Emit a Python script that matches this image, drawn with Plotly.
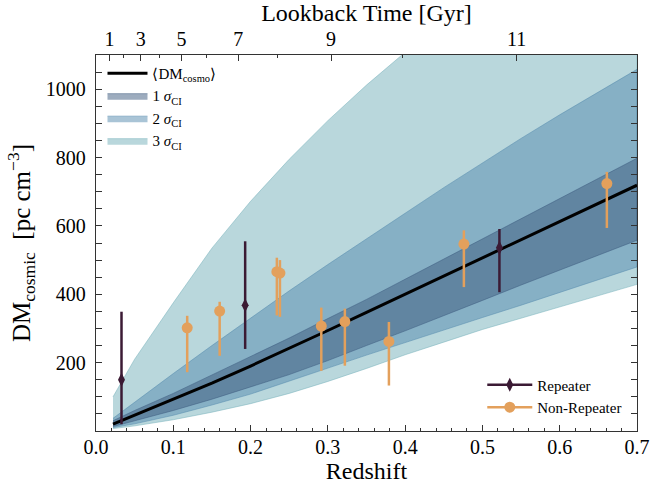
import plotly.graph_objects as go

# ---- data ----
z_grid = [0.022, 0.05, 0.1, 0.15, 0.2, 0.25, 0.3, 0.35, 0.4, 0.45, 0.5, 0.55, 0.6, 0.65, 0.7]
dm_mean = [20, 46, 92, 140, 190, 241, 294, 347, 400, 453, 506, 559, 612, 665, 719]
sig1_up = [30, 60, 110, 164, 218, 272, 329, 385, 444, 503, 562, 620, 680, 739, 798]
sig1_lo = [13, 30, 60, 93, 128, 165, 206, 250, 293, 337, 382, 427, 471, 515, 558]
sig2_up = [37, 85, 168, 250, 330, 410, 487, 563, 637, 712, 785, 856, 925, 992, 1058]
sig2_lo = [10, 21, 46, 76, 108, 145, 184, 222, 260, 296, 332, 368, 405, 442, 480]
sig3_up = [100, 210, 375, 535, 672, 795, 908, 1012, 1108, 1200, 1290, 1378, 1465, 1550, 1635]
sig3_lo = [7, 15, 33, 55, 80, 110, 145, 183, 223, 260, 297, 330, 363, 396, 429]

z_rep = [0.033, 0.193, 0.522]
dm_rep = [150, 368, 536]
rep_err_up = [199, 187, 55]
rep_err_lo = [130, 128, 130]

z_nrep = [0.118, 0.160, 0.234, 0.238, 0.2915, 0.322, 0.379, 0.476, 0.661]
dm_nrep = [302, 351, 466, 462, 307, 320, 262, 547, 724]
nrep_err_up = [35, 27, 41, 38, 54, 38, 57, 40, 34]
nrep_err_lo = [130, 131, 128, 128, 131, 129, 129, 126, 130]

lookback_z = [0.0175, 0.0579, 0.1106, 0.1840, 0.3041, 0.5442]
lookback_labels = ["1", "3", "5", "7", "9", "11"]
lookback_minor_z = [0.0359, 0.0817, 0.1436, 0.2354, 0.3960]

# ---- styling ----
FONT = "Liberation Serif"
AXC = "#333333"
C3 = "rgba(115,175,185,0.5)"
C2 = "rgba(83,137,173,0.5)"
C1 = "rgba(60,90,126,0.5)"
REP_C = "#3b1a34"
NREP_C = "#e3a05c"

fig = go.Figure()


def band(upper, lower, color, name, rank):
    fig.add_trace(go.Scatter(
        x=z_grid + z_grid[::-1], y=upper + lower[::-1],
        fill="toself", fillcolor=color, mode="lines",
        line=dict(color=color, width=1), name=name,
        legend="legend", legendrank=rank, hoverinfo="skip"))


band(sig3_up, sig3_lo, C3, "3 <i>σ</i><sub>CI</sub>", 4)
band(sig2_up, sig2_lo, C2, "2 <i>σ</i><sub>CI</sub>", 3)
band(sig1_up, sig1_lo, C1, "1 <i>σ</i><sub>CI</sub>", 2)

fig.add_trace(go.Scatter(
    x=z_grid, y=dm_mean, mode="lines", line=dict(color="black", width=3),
    name="⟨DM<sub>cosmo</sub>⟩", legend="legend", legendrank=1))

fig.add_trace(go.Scatter(
    x=z_nrep, y=dm_nrep, mode="markers",
    marker=dict(color=NREP_C, size=11, symbol="circle"),
    error_y=dict(type="data", symmetric=False, array=nrep_err_up,
                 arrayminus=nrep_err_lo, color=NREP_C, thickness=2.5, width=0),
    showlegend=False))
fig.add_trace(go.Scatter(
    x=z_rep, y=dm_rep, mode="markers",
    marker=dict(color=REP_C, size=10, symbol="diamond-tall"),
    error_y=dict(type="data", symmetric=False, array=rep_err_up,
                 arrayminus=rep_err_lo, color=REP_C, thickness=2.5, width=0),
    showlegend=False))

# legend-only entries for the second legend
fig.add_trace(go.Scatter(
    x=[None], y=[None], mode="lines+markers", name="Repeater",
    line=dict(color=REP_C, width=2.5),
    marker=dict(color=REP_C, size=10, symbol="diamond-tall"),
    legend="legend2", legendrank=1))
fig.add_trace(go.Scatter(
    x=[None], y=[None], mode="lines+markers", name="Non-Repeater",
    line=dict(color=NREP_C, width=2.5),
    marker=dict(color=NREP_C, size=11, symbol="circle"),
    legend="legend2", legendrank=2))

# invisible trace to anchor the top axis
fig.add_trace(go.Scatter(x=[0, 0.7], y=[None, None], xaxis="x2",
                         mode="markers", showlegend=False, hoverinfo="skip"))

fig.update_layout(
    width=650, height=486,
    margin=dict(l=96, r=13, t=55, b=55),
    paper_bgcolor="white", plot_bgcolor="white",
    font=dict(family=FONT, color="black", size=20),
    showlegend=True,
    xaxis=dict(
        range=[0, 0.7], tick0=0, dtick=0.1, tickformat=".1f", automargin=False,
        ticks="inside", ticklen=6, tickwidth=1, tickcolor=AXC,
        showline=True, linecolor=AXC, linewidth=1.3, mirror=True,
        showgrid=False, zeroline=False,
        minor=dict(dtick=0.02, ticks="inside", ticklen=3, tickcolor=AXC, showgrid=False),
        tickfont=dict(size=20), ticklabelstandoff=-2,
        title=dict(text="Redshift", font=dict(size=24), standoff=0),
    ),
    xaxis2=dict(
        overlaying="x", side="top", range=[0, 0.7], automargin=False,
        tickmode="array", tickvals=lookback_z, ticktext=lookback_labels,
        ticks="inside", ticklen=6, tickwidth=1, tickcolor=AXC,
        showline=False, showgrid=False, zeroline=False,
        minor=dict(tickvals=lookback_minor_z, ticks="inside", ticklen=3,
                   tickcolor=AXC, showgrid=False),
        tickfont=dict(size=20), ticklabelstandoff=4,
        title=dict(text="Lookback Time [Gyr]", font=dict(size=24), standoff=5),
    ),
    yaxis=dict(
        range=[0, 1100], tickmode="array", tickvals=[200, 400, 600, 800, 1000],
        automargin=False,
        ticks="inside", ticklen=6, tickwidth=1, tickcolor=AXC,
        showline=True, linecolor=AXC, linewidth=1.3, mirror="allticks",
        showgrid=False, zeroline=False,
        minor=dict(dtick=50, ticks="inside", ticklen=3, tickcolor=AXC, showgrid=False),
        tickfont=dict(size=20), ticklabelstandoff=5,
        title=dict(text="DM<sub>cosmic</sub>  [pc cm<sup>−3</sup>]", font=dict(size=25), standoff=8),
    ),
    legend=dict(x=0.012, y=0.995, xanchor="left", yanchor="top", itemwidth=40,
                bgcolor="rgba(255,255,255,0)", font=dict(size=15, family=FONT),
                tracegroupgap=0),
    legend2=dict(x=0.714, y=0.02, xanchor="left", yanchor="bottom", itemwidth=45,
                 bgcolor="rgba(255,255,255,0)", font=dict(size=15, family=FONT)),
)

fig.write_html("out.html", config={"displayModeBar": False},
               post_script="document.body.style.margin='0px';")
